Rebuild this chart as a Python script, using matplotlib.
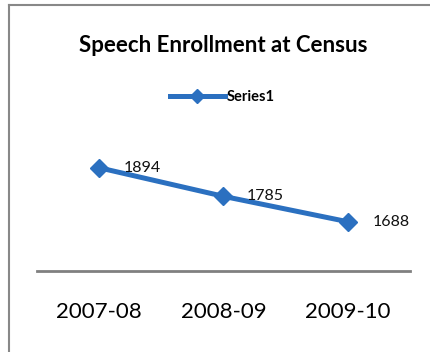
import matplotlib
matplotlib.use("Agg")
import matplotlib.pyplot as plt
from matplotlib.lines import Line2D

# chart data
years = ["2007-08", "2008-09", "2009-10"]
enrollment = [1894, 1785, 1688]
series_name = "Series1"
title = "Speech Enrollment at Census"

plt.rcParams['font.family'] = ['Lato', 'DejaVu Sans']

W, H = 431, 352
fig = plt.figure(figsize=(W / 100, H / 100), dpi=100)

# axes box in pixel terms: x 37..410, y 140..271 (from top)
ax = fig.add_axes([37 / W, (H - 271) / H, (410 - 37) / W, (271 - 140) / H])

blue = "#2b70c0"
x = list(range(len(years)))
line, = ax.plot(x, enrollment, color=blue, lw=3.6, marker="D", ms=9,
                label=series_name)

offsets = [(18, 0), (17, 0), (18, 0)]
for xi, val, off in zip(x, enrollment, offsets):
    ax.annotate(str(val), (xi, val), xytext=off, textcoords="offset points",
                va="center", ha="left", fontsize=11.5, color="#111111")

ax.set_xlim(-0.5, 2.5)
ax.set_ylim(1500, 2000)
ax.set_yticks([])
ax.set_xticks(x)
ax.set_xticklabels(years, fontsize=16)
ax.tick_params(axis="x", length=0, pad=22)
for side in ["top", "right", "left"]:
    ax.spines[side].set_visible(False)
ax.spines["bottom"].set_color("#808080")
ax.spines["bottom"].set_linewidth(2)

fig.text(223 / W, 1 - 45 / H, title, ha="center", va="center",
         fontsize=16, fontweight="bold")

fig.legend(handles=[line], loc="center", bbox_to_anchor=(222 / W, 1 - 97 / H),
           frameon=False, handlelength=3.8, handletextpad=0.1, markerscale=0.75,
           prop={"weight": "bold", "size": 10.5})

# outer frame (left and top edges visible)
fig.add_artist(Line2D([9 / W, 9 / W], [0, 1 - 5 / H], transform=fig.transFigure,
                      color="#888888", lw=1.5))
fig.add_artist(Line2D([9 / W, 1], [1 - 5 / H, 1 - 5 / H], transform=fig.transFigure,
                      color="#888888", lw=1.5))

fig.savefig("out.png", dpi=100)
